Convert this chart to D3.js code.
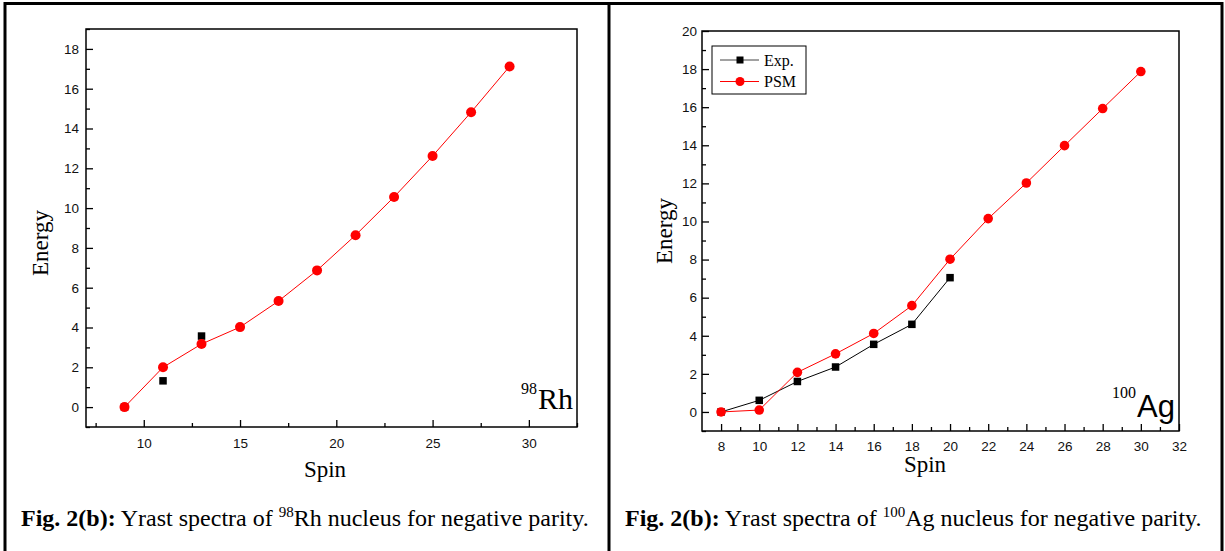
<!DOCTYPE html>
<html lang="en">
<head>
    <meta charset="UTF-8">
    <title>Yrast spectra</title>
    <script src="https://cdnjs.cloudflare.com/ajax/libs/d3/7.8.5/d3.min.js"></script>
    <style>
        body { margin: 0; background: #fff; }
    </style>
</head>
<body>
    <svg width="1225" height="551"></svg>
    <script>
        "use strict";

        // 98Rh panel
        const rhSpinPSM = [9, 11, 13, 15, 17, 19, 21, 23, 25, 27, 29];
        const rhPSM = [0, 2.0, 3.17, 4.02, 5.33, 6.87, 8.64, 10.56, 12.62, 14.82, 17.12];
        const rhSpinExp = [9, 11, 13];
        const rhExp = [0, 1.32, 3.57];
        const rhXTicks = [10, 15, 20, 25, 30];
        const rhXMinor = [7.5, 12.5, 17.5, 22.5, 27.5, 32.5];
        const rhYTicks = [0, 2, 4, 6, 8, 10, 12, 14, 16, 18];
        const rhYMinor = [-1, 1, 3, 5, 7, 9, 11, 13, 15, 17, 19];

        // 100Ag panel
        const agSpinPSM = [8, 10, 12, 14, 16, 18, 20, 22, 24, 26, 28, 30];
        const agPSM = [0, 0.1, 2.08, 3.05, 4.12, 5.58, 8.02, 10.15, 12.02, 13.98, 15.93, 17.87];
        const agSpinExp = [8, 10, 12, 14, 16, 18, 20];
        const agExp = [0, 0.61, 1.6, 2.36, 3.55, 4.6, 7.05];
        const agXTicks = [8, 10, 12, 14, 16, 18, 20, 22, 24, 26, 28, 30, 32];
        const agXMinor = [9, 11, 13, 15, 17, 19, 21, 23, 25, 27, 29, 31];
        const agYTicks = [0, 2, 4, 6, 8, 10, 12, 14, 16, 18, 20];
        const agYMinor = [-1, 1, 3, 5, 7, 9, 11, 13, 15, 17, 19];

        const serif = "Liberation Serif, Times New Roman, serif";
        const sans = "Liberation Sans, Arial, sans-serif";

        const svg = d3.select("svg");

        // table frame
        const frame = svg.append("g").attr("stroke", "black").attr("stroke-width", 3);
        frame.append("line").attr("x1", 4).attr("x2", 1223).attr("y1", 3.5).attr("y2", 3.5);
        frame.append("line").attr("x1", 5).attr("x2", 5).attr("y1", 2).attr("y2", 551);
        frame.append("line").attr("x1", 609).attr("x2", 609).attr("y1", 2).attr("y2", 551);
        frame.append("line").attr("x1", 1222).attr("x2", 1222).attr("y1", 2).attr("y2", 551);

        function drawPanel(p) {
            const x = d3.scaleLinear().domain(p.xDomain).range([p.left, p.right]);
            const y = d3.scaleLinear().domain(p.yDomain).range([p.bottom, p.top]);
            const g = svg.append("g");

            // minor ticks
            g.append("g")
                .attr("transform", `translate(0,${p.bottom})`)
                .call(d3.axisBottom(x).tickValues(p.xMinor).tickSize(-4).tickFormat(""))
                .call(a => a.select(".domain").remove());
            g.append("g")
                .attr("transform", `translate(${p.left},0)`)
                .call(d3.axisLeft(y).tickValues(p.yMinor).tickSize(-4).tickFormat(""))
                .call(a => a.select(".domain").remove());

            // major ticks
            g.append("g")
                .attr("transform", `translate(0,${p.bottom})`)
                .call(d3.axisBottom(x).tickValues(p.xTicks).tickSize(-7).tickPadding(p.xPad).tickFormat(d3.format("d")))
                .call(a => a.select(".domain").remove());
            g.append("g")
                .attr("transform", `translate(${p.left},0)`)
                .call(d3.axisLeft(y).tickValues(p.yTicks).tickSize(-7).tickPadding(p.yPad).tickFormat(d3.format("d")))
                .call(a => a.select(".domain").remove());

            g.selectAll(".tick line").attr("stroke", "black").attr("stroke-width", 1.3);
            g.selectAll(".tick text")
                .attr("font-family", sans)
                .attr("font-size", 13.5)
                .attr("fill", "#111");

            // plot frame
            g.append("rect")
                .attr("x", p.left).attr("y", p.top)
                .attr("width", p.right - p.left).attr("height", p.bottom - p.top)
                .attr("fill", "none").attr("stroke", "black").attr("stroke-width", 1.5);

            const lineGen = d3.line().x(d => x(d[0])).y(d => y(d[1]));

            if (p.expLine) {
                g.append("path")
                    .datum(d3.zip(p.expSpin, p.exp))
                    .attr("d", lineGen)
                    .attr("fill", "none").attr("stroke", "black").attr("stroke-width", 1);
            }
            g.append("path")
                .datum(d3.zip(p.psmSpin, p.psm))
                .attr("d", lineGen)
                .attr("fill", "none").attr("stroke", "red").attr("stroke-width", 1);

            g.selectAll(".exp")
                .data(d3.zip(p.expSpin, p.exp))
                .join("rect")
                .attr("class", "exp")
                .attr("x", d => x(d[0]) - p.sq / 2)
                .attr("y", d => y(d[1]) - p.sq / 2)
                .attr("width", p.sq).attr("height", p.sq)
                .attr("fill", "black");

            g.selectAll(".psm")
                .data(d3.zip(p.psmSpin, p.psm))
                .join("circle")
                .attr("class", "psm")
                .attr("cx", d => x(d[0]))
                .attr("cy", d => y(d[1]))
                .attr("r", p.r)
                .attr("fill", "red");

            // axis titles
            g.append("text")
                .attr("transform", `translate(${p.yTitleX},${p.yTitleY}) rotate(-90)`)
                .attr("text-anchor", "middle")
                .attr("font-family", serif).attr("font-size", 23)
                .text("Energy");
            g.append("text")
                .attr("x", p.xTitleX).attr("y", p.xTitleY)
                .attr("text-anchor", "middle")
                .attr("font-family", serif).attr("font-size", 23)
                .text("Spin");

            // caption
            const cap = g.append("text")
                .attr("x", p.capX).attr("y", 526)
                .attr("font-family", serif).attr("font-size", 24);
            cap.append("tspan").attr("font-weight", "bold").text("Fig. 2(b):");
            cap.append("tspan").text(" Yrast spectra of ");
            cap.append("tspan").attr("font-size", 15).attr("dy", -9).text(p.mass);
            cap.append("tspan").attr("dy", 9).text(p.element + " nucleus for negative parity.");

            return { g, x, y };
        }

        // left: 98Rh
        const rh = drawPanel({
            left: 86, right: 577, top: 29, bottom: 427,
            xDomain: [7, 32.5], yDomain: [-1, 19],
            xTicks: rhXTicks, xMinor: rhXMinor, yTicks: rhYTicks, yMinor: rhYMinor,
            xPad: 11, yPad: 7,
            psmSpin: rhSpinPSM, psm: rhPSM, expSpin: rhSpinExp, exp: rhExp,
            expLine: false, sq: 7.5, r: 5,
            yTitleX: 48, yTitleY: 243, xTitleX: 325, xTitleY: 477,
            capX: 21, mass: "98", element: "Rh"
        });
        rh.g.append("text")
            .attr("x", 538).attr("y", 409)
            .attr("font-family", serif).attr("font-size", 30)
            .text("Rh");
        rh.g.append("text")
            .attr("x", 537).attr("y", 394)
            .attr("text-anchor", "end")
            .attr("font-family", serif).attr("font-size", 16)
            .text("98");

        // right: 100Ag
        const ag = drawPanel({
            left: 702, right: 1179, top: 31, bottom: 431,
            xDomain: [7, 32], yDomain: [-1, 20],
            xTicks: agXTicks, xMinor: agXMinor, yTicks: agYTicks, yMinor: agYMinor,
            xPad: 10, yPad: 5,
            psmSpin: agSpinPSM, psm: agPSM, expSpin: agSpinExp, exp: agExp,
            expLine: true, sq: 7.5, r: 4.8,
            yTitleX: 672, yTitleY: 231, xTitleX: 925, xTitleY: 472,
            capX: 625, mass: "100", element: "Ag"
        });
        ag.g.append("text")
            .attr("x", 1137).attr("y", 417)
            .attr("font-family", sans).attr("font-size", 31)
            .text("Ag");
        ag.g.append("text")
            .attr("x", 1136).attr("y", 398)
            .attr("text-anchor", "end")
            .attr("font-family", serif).attr("font-size", 16)
            .text("100");

        // legend
        const legendItems = ["Exp.", "PSM"];
        const legendColors = ["#444", "red"];
        const leg = ag.g.append("g");
        leg.append("rect")
            .attr("x", 712).attr("y", 46).attr("width", 94).attr("height", 48)
            .attr("fill", "white").attr("stroke", "black").attr("stroke-width", 1);
        legendItems.forEach((name, i) => {
            const ly = 60 + i * 21.5;
            leg.append("line")
                .attr("x1", 720).attr("x2", 759).attr("y1", ly).attr("y2", ly)
                .attr("stroke", legendColors[i]).attr("stroke-width", 1);
            if (i === 0) {
                leg.append("rect").attr("x", 736.5).attr("y", ly - 3.5)
                    .attr("width", 7).attr("height", 7).attr("fill", "black");
            } else {
                leg.append("circle").attr("cx", 740).attr("cy", ly).attr("r", 4.5).attr("fill", "red");
            }
            leg.append("text")
                .attr("x", 764).attr("y", ly).attr("dy", "0.35em")
                .attr("font-family", serif).attr("font-size", 16)
                .text(name);
        });
    </script>
</body>
</html>
